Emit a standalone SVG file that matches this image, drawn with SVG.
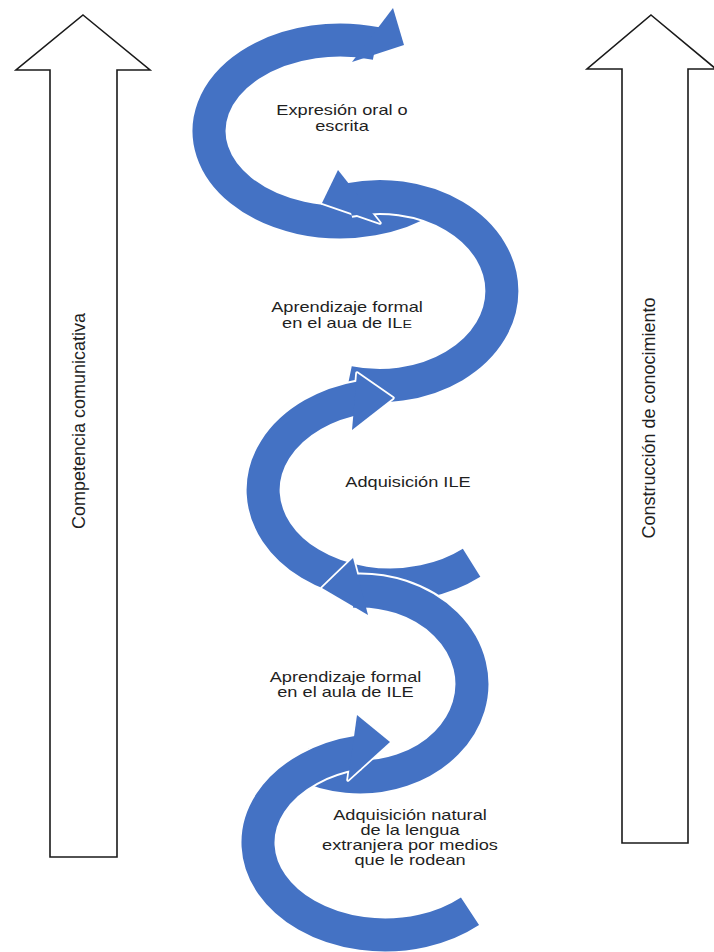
<svg xmlns="http://www.w3.org/2000/svg" width="714" height="952" viewBox="0 0 714 952">
<style>
.side{fill:#fff;stroke:#1a1a1a;stroke-width:1.6;stroke-linejoin:miter}
.ao{fill:none;stroke:#fff;stroke-width:37}
.ab{fill:none;stroke:#4472C4;stroke-width:33}
.ho{fill:#fff;stroke:#fff;stroke-width:3.5;stroke-linejoin:round}
.hb{fill:#4472C4}
.lbl{font-family:"Liberation Sans",Arial,sans-serif;font-size:14px;fill:#1f1f1f;text-anchor:middle}
.vlbl{font-family:"Liberation Sans",Arial,sans-serif;font-size:18px;fill:#1f1f1f;text-anchor:middle}
</style>
<rect width="714" height="952" fill="#fff"/>
<g id="competencia">
<polygon class="side" points="83,15 150,70 117,70 117,857 50,857 50,70 16,70"/>
<text class="vlbl" transform="translate(85 421) rotate(-90)">Competencia comunicativa</text>
</g>
<g id="construccion">
<polygon class="side" points="651,15 716,69 688,69 688,843 622,843 622,69 587,69"/>
<text class="vlbl" transform="translate(655 418) rotate(-90)">Construcción de conocimiento</text>
</g>
<g id="connectors">
<g id="arc1">
<path class="ao" d="M 427.7 198.6 A 131 91 0 1 1 376.1 43.5"/>
<polygon class="ho" points="393,8 404,45 352,62"/>
<path class="ab" d="M 427.7 198.6 A 131 91 0 1 1 376.1 43.5"/>
<polygon class="hb" points="393,8 404,45 352,62"/>
</g>
<g id="arc2">
<path class="ao" d="M 348.4 382.3 A 122 94.5 0 1 0 348.4 199.7"/>
<polygon class="ho" points="338,170 322,203 380,223"/>
<path class="ab" d="M 348.4 382.3 A 122 94.5 0 1 0 348.4 199.7"/>
<polygon class="hb" points="338,170 322,203 380,223"/>
</g>
<g id="arc3">
<path class="ao" d="M 471.6 562.8 A 127 95 0 1 1 361.4 397.4"/>
<polygon class="ho" points="357,373 393,398 352,430"/>
<path class="ab" d="M 471.6 562.8 A 127 95 0 1 1 361.4 397.4"/>
<polygon class="hb" points="357,373 393,398 352,430"/>
</g>
<g id="arc4">
<path class="ao" d="M 300.7 762.9 A 112 93 0 1 0 352.2 591.2"/>
<polygon class="ho" points="353,558 322,588 368,615"/>
<path class="ab" d="M 300.7 762.9 A 112 93 0 1 0 352.2 591.2"/>
<polygon class="hb" points="353,558 322,588 368,615"/>
</g>
<g id="arc5">
<path class="ao" d="M 470.0 911.2 A 127 92.5 0 1 1 358.6 752.0"/>
<polygon class="ho" points="357,715 390,742 348,780"/>
<path class="ab" d="M 470.0 911.2 A 127 92.5 0 1 1 358.6 752.0"/>
<polygon class="hb" points="357,715 390,742 348,780"/>
</g>
</g>
<g id="expresion" transform="translate(342 0) scale(1.3 1)">
<text class="lbl" x="0" y="115">Expresión oral o</text>
<text class="lbl" x="0" y="131">escrita</text>
</g>
<g id="aprendizaje1" transform="translate(347 0) scale(1.3 1)">
<text class="lbl" x="0" y="312">Aprendizaje formal</text>
<text class="lbl" x="0" y="328">en el aua de IL<tspan font-size="11">E</tspan></text>
</g>
<g id="adquisicion" transform="translate(408 0) scale(1.3 1)">
<text class="lbl" x="0" y="487">Adquisición ILE</text>
</g>
<g id="aprendizaje2" transform="translate(345.5 0) scale(1.3 1)">
<text class="lbl" x="0" y="682">Aprendizaje formal</text>
<text class="lbl" x="0" y="697">en el aula de ILE</text>
</g>
<g id="natural" transform="translate(410 0) scale(1.3 1)">
<text class="lbl" x="0" y="820">Adquisición natural</text>
<text class="lbl" x="0" y="835">de la lengua</text>
<text class="lbl" x="0" y="850">extranjera por medios</text>
<text class="lbl" x="0" y="865">que le rodean</text>
</g>
</svg>
